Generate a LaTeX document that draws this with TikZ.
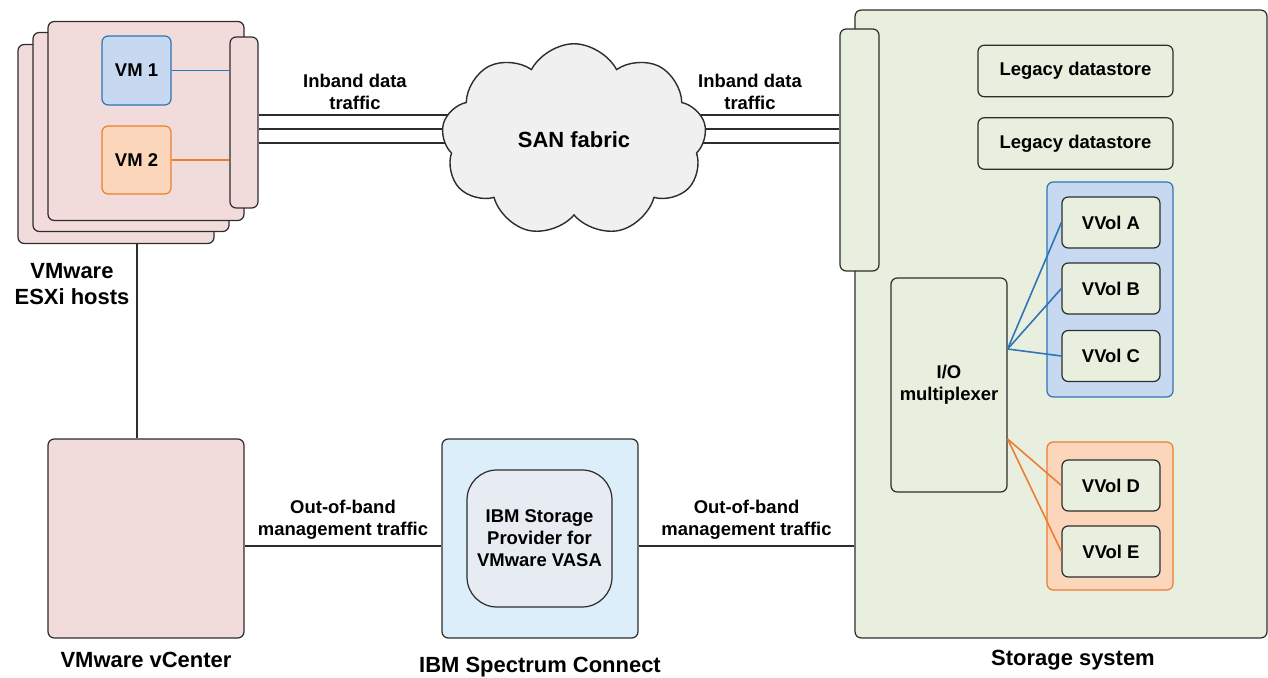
\documentclass[tikz,border=0pt]{standalone}
\usepackage{fontspec}
\setmainfont{Liberation Sans}
\usetikzlibrary{shapes.symbols,calc,backgrounds}

\definecolor{edge}{RGB}{45,45,45}
\definecolor{hostpink}{RGB}{242,220,219}
\definecolor{vmbluefill}{RGB}{198,217,240}
\definecolor{vmblueline}{RGB}{46,117,182}
\definecolor{vmorangefill}{RGB}{251,214,186}
\definecolor{vmorangeline}{RGB}{237,125,49}
\definecolor{storegreen}{RGB}{233,239,222}
\definecolor{spectrumblue}{RGB}{219,238,250}
\definecolor{vasagray}{RGB}{231,235,242}
\definecolor{cloudgray}{RGB}{240,240,240}

\newcommand{\lblfont}{\fontsize{10.5}{12.5}\selectfont\bfseries}
\newcommand{\ttlfont}{\fontsize{12.5}{15}\selectfont\bfseries}

\tikzstyle{box}=[draw=edge,line width=0.7pt,rounded corners=3.5pt,inner sep=0pt,font=\lblfont,align=center]
\tikzstyle{host}=[box,fill=hostpink,minimum width=3.92cm,minimum height=3.98cm]
\tikzstyle{port}=[box,fill=hostpink,minimum width=0.56cm]
\tikzstyle{vmblue}=[box,draw=vmblueline,fill=vmbluefill,minimum width=1.38cm,minimum height=1.38cm]
\tikzstyle{vmorange}=[box,draw=vmorangeline,fill=vmorangefill,minimum width=1.38cm,minimum height=1.36cm]
\tikzstyle{storage}=[box,fill=storegreen,minimum width=8.24cm,minimum height=12.56cm]
\tikzstyle{legacy}=[box,fill=storegreen,minimum width=3.9cm,minimum height=1.03cm]
\tikzstyle{bluegrp}=[box,draw=vmblueline,fill=vmbluefill,minimum width=2.52cm,minimum height=4.3cm]
\tikzstyle{orangegrp}=[box,draw=vmorangeline,fill=vmorangefill,minimum width=2.52cm,minimum height=2.96cm]
\tikzstyle{vvol}=[box,fill=storegreen,minimum width=1.96cm,minimum height=1.02cm]
\tikzstyle{mux}=[box,fill=storegreen,minimum width=2.32cm,minimum height=4.28cm]
\tikzstyle{spectrum}=[box,fill=spectrumblue,minimum width=3.92cm,minimum height=3.98cm]
\tikzstyle{vasa}=[box,fill=vasagray,rounded corners=17pt,minimum width=2.9cm,minimum height=2.74cm]
\tikzstyle{san}=[cloud,cloud puffs=9,cloud puff arc=125,aspect=1.35,draw=edge,line width=0.8pt,fill=cloudgray,minimum width=5.3cm,minimum height=3.85cm,inner sep=0pt,font=\ttlfont]
\tikzstyle{title}=[font=\ttlfont,align=center,inner sep=1pt]
\tikzstyle{lbl}=[font=\lblfont,align=center]
\tikzstyle{link}=[draw=edge,line width=0.7pt]
\tikzstyle{bluelink}=[draw=vmblueline,line width=0.9pt]
\tikzstyle{orangelink}=[draw=vmorangeline,line width=0.9pt]

\begin{document}
\begin{tikzpicture}[x=0.02cm,y=-0.02cm]
    \useasboundingbox (0,0) rectangle (1268,678);
    %ESXi hosts
    \foreach \pos/\name in {{(116,144)/hostc}, {(131,132)/hostb}, {(146,121)/hosta}}
    \node[host] (\name) at \pos {};
    \node[port,minimum height=3.42cm] (hostnic) at (244,122.5) {};
    \node[vmblue] (vm1) at (136.5,70.5) {VM 1};
    \node[vmorange] (vm2) at (136.5,160) {VM 2};
    \draw[bluelink] (vm1) -- (vm1 -| hostnic.west);
    \draw[orangelink] (vm2) -- (vm2 -| hostnic.west);
    \node[title] (esxitxt) at (72,284) {VMware\\ESXi hosts};
    %vCenter and Spectrum Connect
    \node[host] (vcenter) at (146,538.5) {};
    \node[title] (vcentertxt) at (146,660) {VMware vCenter};
    \node[spectrum] (spectrum) at (540,538.5) {};
    \node[vasa] (vasa) at (539.5,538.5) {IBM Storage\\Provider for\\VMware VASA};
    \node[title] (spectrumtxt) at (540,667) {IBM Spectrum Connect};
    \draw[link] (hostc.south -| 137,0) -- (vcenter.north -| 137,0);
    %Storage system
    \node[storage] (storage) at (1061,324) {};
    \node[port,fill=storegreen,minimum width=0.78cm,minimum height=4.84cm] (sport) at (859.5,150) {};
    \foreach \pos/\name in {{(1075.5,71)/legacya}, {(1075.5,143.5)/legacyb}}
    \node[legacy] (\name) at \pos {Legacy datastore};
    \node[bluegrp] (vgroupb) at (1110,289.5) {};
    \node[orangegrp] (vgroupo) at (1110,516) {};
    \foreach \pos/\name in {{(1111,222.5)/A}, {(1111,288.5)/B}, {(1111,356)/C},
                            {(1111,485.5)/D}, {(1111,551.5)/E}}
    \node[vvol] (vvol\name) at \pos {VVol \name};
    \node[mux] (iomux) at (949,385) {I/O\\multiplexer};
    \coordinate (muxb) at ($(iomux.east)+(0,-36)$);
    \coordinate (muxo) at ($(iomux.east)+(0,54)$);
    \foreach \name in {A,B,C} \draw[bluelink] (muxb) -- (vvol\name.west);
    \foreach \name in {D,E} \draw[orangelink] (muxo) -- (vvol\name.west);
    \node[title] (storagetxt) at (1073,660) {Storage system};
    %SAN fabric
    \node[san] (san) at (574,140) {SAN fabric};
    \begin{pgfonlayer}{background}
        \foreach \ly in {115,129,143} {
            \draw[link] (hostnic.east |- 0,\ly) -- (san.center |- 0,\ly);
            \draw[link] (san.center |- 0,\ly) -- (sport.west |- 0,\ly);
        }
    \end{pgfonlayer}
    \node[lbl] (inbandl) at (355,92) {Inband data\\traffic};
    \node[lbl] (inbandr) at (750,92) {Inband data\\traffic};
    %Management traffic
    \draw[link] (vcenter.east |- 0,546) -- node[lbl,above] (oobl) {Out-of-band\\management traffic} (spectrum.west |- 0,546);
    \draw[link] (spectrum.east |- 0,546) -- node[lbl,above] (oobr) {Out-of-band\\management traffic} (storage.west |- 0,546);
\end{tikzpicture}
\end{document}
